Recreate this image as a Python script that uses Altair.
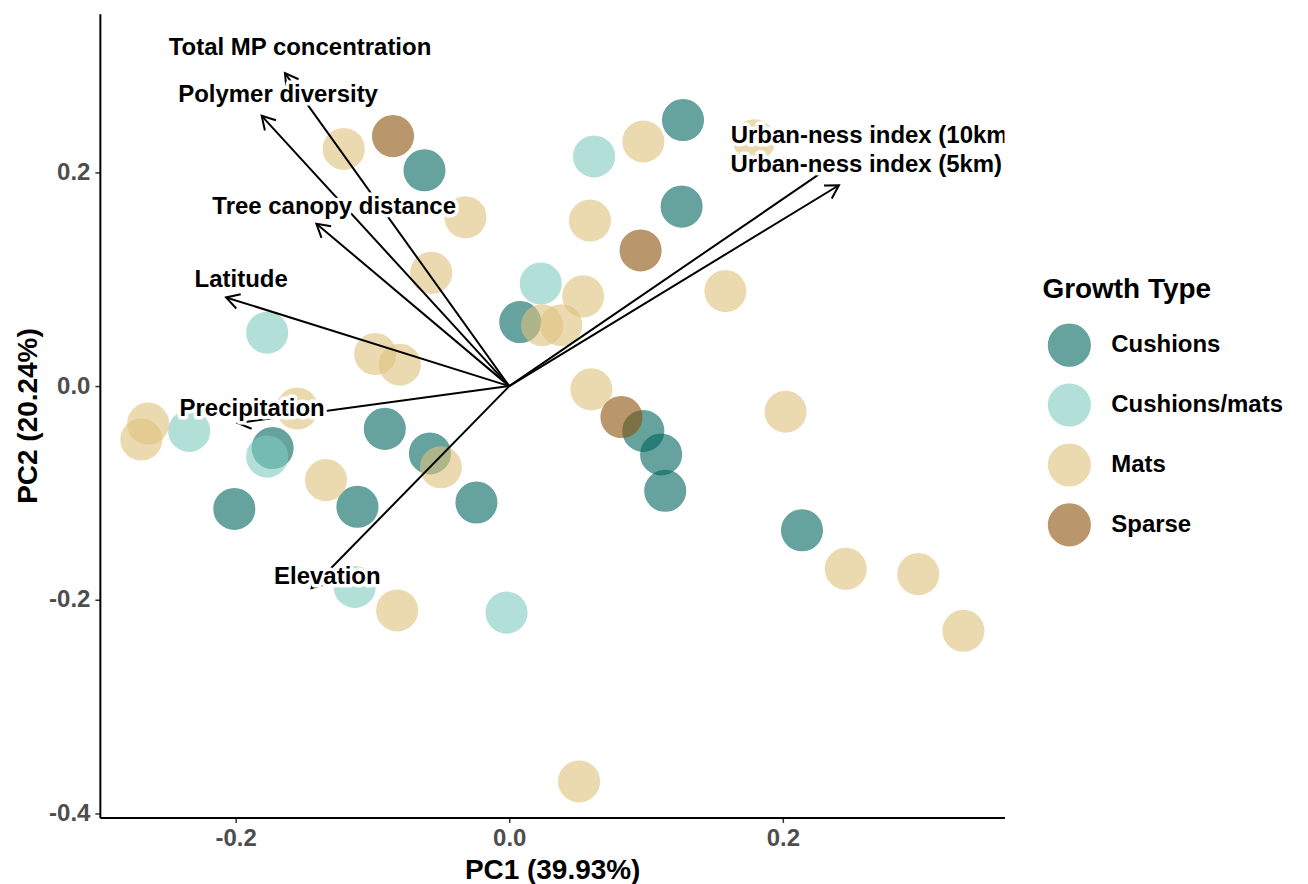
import math
import altair as alt
import pandas as pd

# ---------------- data ----------------
growth_types = ["Cushions", "Cushions/mats", "Mats", "Sparse"]
palette = ["#01665e", "#80cdc1", "#dfc27d", "#8c510a"]

cushions_pc1 = [0.127, 0.126, -0.062, 0.008, 0.098, 0.111, 0.114, 0.214,
                -0.173, -0.091, -0.058, -0.201, -0.111, -0.024]
cushions_pc2 = [0.249, 0.168, 0.202, 0.060, -0.042, -0.064, -0.098, -0.135,
                -0.058, -0.040, -0.063, -0.115, -0.113, -0.109]

cmats_pc1 = [0.062, 0.023, -0.177, -0.234, -0.177, -0.113, -0.002]
cmats_pc2 = [0.215, 0.096, 0.050, -0.042, -0.066, -0.188, -0.212]

mats_pc1 = [-0.121, -0.032, -0.057, -0.098, -0.080, 0.098, 0.059, 0.054,
            0.024, 0.038, 0.158, 0.060, 0.202, 0.246, 0.299, 0.332, 0.051,
            -0.264, -0.269, -0.155, -0.134, -0.050, -0.082, 0.179]
mats_pc2 = [0.222, 0.158, 0.106, 0.030, 0.020, 0.229, 0.155, 0.084,
            0.057, 0.057, 0.089, -0.003, -0.024, -0.171, -0.176, -0.229, -0.370,
            -0.035, -0.050, -0.021, -0.088, -0.076, -0.210, 0.230]

sparse_pc1 = [-0.085, 0.096, 0.082]
sparse_pc2 = [0.234, 0.127, -0.029]

var_names = ["Total MP concentration", "Polymer diversity", "Tree canopy distance",
             "Latitude", "Precipitation", "Elevation",
             "Urban-ness index (10km)", "Urban-ness index (5km)"]
var_pc1 = [-0.164, -0.181, -0.141, -0.207, -0.1985, -0.1445, 0.241, 0.241]
var_pc2 = [0.293, 0.253, 0.152, 0.083, -0.0346, -0.189, 0.211, 0.188]
label_pc1 = [-0.153, -0.169, -0.128, -0.196, -0.188, -0.133, 0.266, 0.261]
label_pc2 = [0.316, 0.272, 0.168, 0.099, -0.0215, -0.1785, 0.234, 0.2065]

x_domain = [-0.2993, 0.362]
y_domain = [-0.4037, 0.3486]
x_ticks = [-0.2, 0.0, 0.2]
y_ticks = [-0.4, -0.2, 0.0, 0.2]

# ---------------- tables ----------------
W, H = 906, 805
FONT = "Liberation Sans"

rows = []
for name, xs_, ys_ in [("Cushions", cushions_pc1, cushions_pc2),
                       ("Cushions/mats", cmats_pc1, cmats_pc2),
                       ("Mats", mats_pc1, mats_pc2),
                       ("Sparse", sparse_pc1, sparse_pc2)]:
    for a, b in zip(xs_, ys_):
        rows.append({"PC1": a, "PC2": b, "type": name})
points = pd.DataFrame(rows)

kx = W / (x_domain[1] - x_domain[0])
ky = H / (y_domain[1] - y_domain[0])
arrows = pd.DataFrame({
    "name": var_names,
    "x0": [0.0] * len(var_names),
    "y0": [0.0] * len(var_names),
    "pc1": var_pc1,
    "pc2": var_pc2,
    "lx": label_pc1,
    "ly": label_pc2,
})
arrows["angle"] = [
    math.degrees(math.atan2(a * kx, b * ky)) % 360 for a, b in zip(var_pc1, var_pc2)
]

xs = alt.Scale(domain=x_domain, nice=False, zero=False)
ys = alt.Scale(domain=y_domain, nice=False, zero=False)
cscale = alt.Scale(domain=growth_types, range=palette)

legend = alt.Legend(
    title="Growth Type", orient="none", legendX=944, legendY=263,
    titleFont=FONT, titleFontSize=28, titleFontWeight="bold", titleColor="black",
    labelFont=FONT, labelFontSize=24, labelFontWeight="bold", labelColor="black",
    labelLimit=0,
    symbolSize=1735, symbolType="circle", symbolStrokeWidth=1.5, symbolOffset=5,
    rowPadding=12, labelOffset=20, titlePadding=19, padding=0,
)

minus_fix = "replace(datum.label, '\u2212', '-')"
base_x = alt.X("PC1:Q", scale=xs, title="PC1 (39.93%)",
               axis=alt.Axis(values=x_ticks, format=".1f", labelExpr=minus_fix))
base_y = alt.Y("PC2:Q", scale=ys, title="PC2 (20.24%)",
               axis=alt.Axis(values=y_ticks, format=".1f", labelExpr=minus_fix))

pts = alt.Chart(points).mark_point(filled=True, shape="circle", size=1650,
                                   opacity=0.6, strokeWidth=1.5).encode(
    x=base_x, y=base_y,
    fill=alt.Fill("type:N", scale=cscale, legend=legend),
    stroke=alt.Stroke("type:N", scale=cscale, legend=legend),
)

shafts = alt.Chart(arrows).mark_rule(color="black", strokeWidth=2).encode(
    x=alt.X("x0:Q", scale=xs), y=alt.Y("y0:Q", scale=ys),
    x2="pc1:Q", y2="pc2:Q",
)

heads = alt.Chart(arrows).mark_point(
    shape="M -0.5 0.866 L 0 0 L 0.5 0.866", filled=False, stroke="black",
    strokeWidth=2, size=900, opacity=1,
).encode(
    x=alt.X("pc1:Q", scale=xs), y=alt.Y("pc2:Q", scale=ys),
    angle=alt.Angle("angle:Q", scale=None),
)

halo = alt.Chart(arrows).mark_text(
    font=FONT, fontSize=24, fontWeight="bold", align="center", baseline="middle",
    stroke="white", strokeWidth=7, strokeJoin="round", fill="white", clip=True,
).encode(x=alt.X("lx:Q", scale=xs), y=alt.Y("ly:Q", scale=ys), text="name:N")

labels = alt.Chart(arrows).mark_text(
    font=FONT, fontSize=24, fontWeight="bold", align="center", baseline="middle",
    fill="black", clip=True,
).encode(x=alt.X("lx:Q", scale=xs), y=alt.Y("ly:Q", scale=ys), text="name:N")

chart = alt.layer(pts, shafts, heads, halo, labels).properties(
    width=W, height=H,
    autosize=alt.AutoSizeParams(type="none"),
    padding={"left": 92, "top": 5, "right": 296, "bottom": 66},
).configure_view(stroke=None).configure_axis(
    domainColor="black", domainWidth=2, tickColor="#333333", tickWidth=1.5,
    tickSize=5, grid=False,
    labelFont=FONT, labelFontSize=24, labelFontWeight="bold", labelColor="#4d4d4d",
    titleFont=FONT, titleFontSize=28, titleFontWeight="bold", titleColor="black",
).configure_axisX(labelPadding=4, titlePadding=6).configure_axisY(
    labelPadding=5, titlePadding=6)

chart.save("out.html", embed_options={"renderer": "svg", "actions": False})
